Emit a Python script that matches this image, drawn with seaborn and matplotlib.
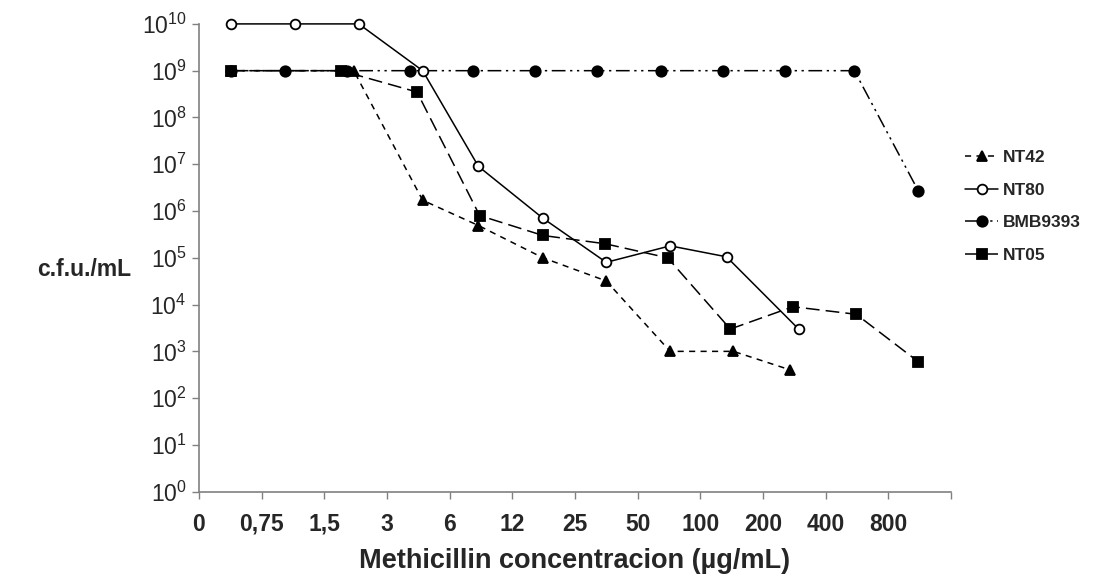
import matplotlib
matplotlib.use("Agg")
import matplotlib.pyplot as plt
from matplotlib.ticker import NullLocator
import seaborn as sns
import pandas as pd

# ---- data (x = position along the category axis, y = c.f.u./mL) ----
series_names = ["NT42", "NT80", "BMB9393", "NT05"]

nt42_pos = [0.51, 2.47, 3.57, 4.46, 5.49, 6.50, 7.52, 8.53, 9.44]
nt42_cfu = [1e9, 1e9, 1.7e6, 4.9e5, 1.0e5, 3.2e4, 1.0e3, 1.0e3, 4.0e2]

nt80_pos = [0.51, 1.53, 2.55, 3.57, 4.46, 5.49, 6.50, 7.52, 8.42, 9.57]
nt80_cfu = [1e10, 1e10, 1e10, 1e9, 9e6, 7e5, 8e4, 1.8e5, 1.05e5, 3e3]

bmb_pos = [0.51, 1.37, 2.37, 3.37, 4.37, 5.37, 6.36, 7.37, 8.37, 9.36, 10.46, 11.48]
bmb_cfu = [1e9, 1e9, 1e9, 1e9, 1e9, 1e9, 1e9, 1e9, 1e9, 1e9, 1e9, 2.7e6]

nt05_pos = [0.51, 2.27, 3.48, 4.48, 5.49, 6.48, 7.48, 8.48, 9.48, 10.49, 11.48]
nt05_cfu = [1e9, 1e9, 3.5e8, 8e5, 3e5, 2e5, 1e5, 3e3, 9e3, 6.2e3, 6e2]

x_tick_labels = ["0", "0,75", "1,5", "3", "6", "12", "25", "50",
                 "100", "200", "400", "800", ""]
y_exponents = list(range(0, 11))

frames = []
for name, pos, cfu in [("NT42", nt42_pos, nt42_cfu), ("NT80", nt80_pos, nt80_cfu),
                       ("BMB9393", bmb_pos, bmb_cfu), ("NT05", nt05_pos, nt05_cfu)]:
    frames.append(pd.DataFrame({"series": name, "pos": pos, "cfu": cfu}))
df = pd.concat(frames, ignore_index=True)

# ---- style ----
sns.set_theme(style="ticks")
plt.rcParams["font.family"] = ["Liberation Sans", "DejaVu Sans"]
plt.rcParams["mathtext.fontset"] = "custom"
plt.rcParams["mathtext.rm"] = "Liberation Sans"
plt.rcParams["mathtext.it"] = "Liberation Sans:italic"
plt.rcParams["mathtext.bf"] = "Liberation Sans:bold"

styles = {
    "NT42": dict(marker="^", ms=7.5, mfc="black", ls=(0, (4, 3.5))),
    "NT80": dict(marker="o", ms=7, mfc="white", ls="-"),
    "BMB9393": dict(marker="o", ms=7.5, mfc="black", ls=(0, (9, 3, 1.5, 3, 1.5, 3))),
    "NT05": dict(marker="s", ms=6.5, mfc="black", ls=(0, (9, 4))),
}

fig = plt.figure(figsize=(10.98, 5.83), dpi=100)
ax = fig.add_axes([0.1812, 0.1566, 0.866 - 0.1812, 0.959 - 0.1566])
ax.set_yscale("log")

handles = {}
for name in ["BMB9393", "NT05", "NT42", "NT80"]:
    st = styles[name]
    sub = df[df["series"] == name]
    sns.lineplot(data=sub, x="pos", y="cfu", ax=ax, color="black",
                 marker=st["marker"], markersize=st["ms"], markerfacecolor=st["mfc"],
                 markeredgecolor="black", markeredgewidth=1.3, linewidth=1.1,
                 linestyle=st["ls"], sort=False, estimator=None, legend=False,
                 clip_on=False)
    handles[name] = ax.lines[-1]

ax.set_xlim(0, 12)
ax.set_ylim(1, 1e10)
ax.set_xticks(range(len(x_tick_labels)))
ax.set_xticklabels(x_tick_labels, fontsize=16.5, fontweight="bold")
ax.set_yticks([10.0 ** e for e in y_exponents])
ax.set_yticklabels([f"$10^{{{e}}}$" for e in y_exponents], fontsize=16.5)
ax.yaxis.set_minor_locator(NullLocator())
ax.tick_params(axis="both", direction="out", length=5, width=1, color="#808080")
ax.tick_params(axis="x", pad=10)
ax.tick_params(axis="y", pad=4)

for side in ["top", "right"]:
    ax.spines[side].set_visible(False)
for side in ["left", "bottom"]:
    ax.spines[side].set_color("#808080")
    ax.spines[side].set_linewidth(1.2)

ax.set_xlabel("Methicillin concentracion (µg/mL)", fontsize=19.5, fontweight="bold")
ax.xaxis.set_label_coords(0.5, -0.12)
ax.set_ylabel("c.f.u./mL", fontsize=16.5, fontweight="bold", rotation=0,
              ha="center", va="center")
ax.yaxis.set_label_coords(-0.153, 0.475)

leg = fig.legend([handles[n] for n in series_names], series_names,
                 loc="center left", bbox_to_anchor=(0.879, 0.646),
                 frameon=False, prop={"weight": "bold", "size": 12.5},
                 handlelength=1.9, handletextpad=0.3, labelspacing=1.0,
                 borderpad=0, borderaxespad=0)

fig.savefig("out.png", dpi=100)
